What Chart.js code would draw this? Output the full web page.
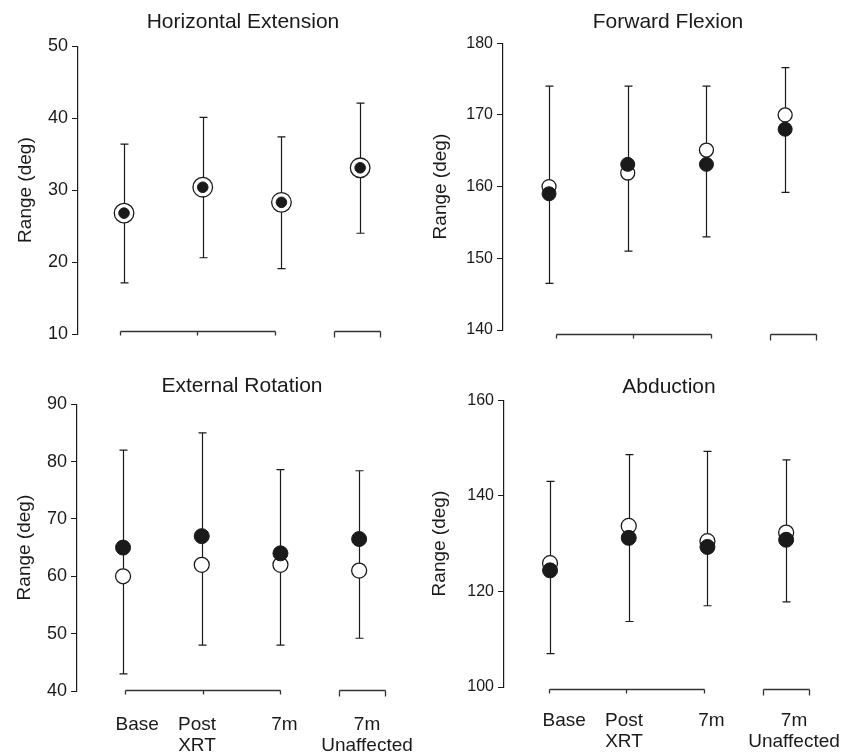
<!DOCTYPE html>
<html>
<head>
<meta charset="utf-8">
<script src="https://cdn.jsdelivr.net/npm/chart.js@4.4.1/dist/chart.umd.min.js"></script>
<style>
  body { margin: 0; background: #fff; }
  .panel { position: absolute; }
</style>
</head>
<body>
<div class="panel" id="p0"><canvas id="c0"></canvas></div>
<div class="panel" id="p1"><canvas id="c1"></canvas></div>
<div class="panel" id="p2"><canvas id="c2"></canvas></div>
<div class="panel" id="p3"><canvas id="c3"></canvas></div>
<script>
// categories along the bottom
const categories = ['Base', ['Post', 'XRT'], '7m', ['7m', 'Unaffected']];
const catX = [0, 1, 2, 3];
const labelX = [0.18, 0.94, 2.05, 3.1];

// Horizontal Extension
const heFilled = [26.8, 30.4, 28.3, 33.1];
const heOpen = [26.8, 30.4, 28.3, 33.1];
const heLow = [17.1, 20.6, 19.1, 24.0];
const heHigh = [36.4, 40.1, 37.4, 42.1];
const heTicks = [10, 20, 30, 40, 50];

// Forward Flexion
const ffFilled = [159.0, 163.1, 163.1, 168.0];
const ffOpen = [160.0, 161.9, 165.1, 170.0];
const ffLow = [146.5, 151.0, 153.0, 159.2];
const ffHigh = [174.0, 174.0, 174.0, 176.6];
const ffTicks = [140, 150, 160, 170, 180];

// External Rotation
const erFilled = [65.0, 67.0, 64.0, 66.5];
const erOpen = [60.0, 62.0, 62.0, 61.0];
const erLow = [43.0, 48.0, 48.0, 49.2];
const erHigh = [82.0, 85.0, 78.6, 78.4];
const erTicks = [40, 50, 60, 70, 80, 90];

// Abduction
const abFilled = [124.4, 131.2, 129.3, 130.8];
const abOpen = [125.9, 133.7, 130.5, 132.3];
const abLow = [107.0, 113.7, 117.0, 117.8];
const abHigh = [143.0, 148.6, 149.3, 147.5];
const abTicks = [100, 120, 140, 160];

// broken baseline pieces under the points (x units)
const baseSegments = [[0, 0.98, 1.97], [2.72, 3.3]];

const FONT = "'Liberation Sans', Arial, sans-serif";
const INK = '#1a1a1a';

const panels = [
  { title: 'Horizontal Extension', filled: heFilled, open: heOpen, low: heLow, high: heHigh, ticks: heTicks,
    left: 0, top: 0, w: 425, h: 376, axisW: 78, titlePad: { top: 10, bottom: 11 }, padBottom: 42, xAxisH: 0,
    tickSize: 18, yTitlePad: 14, rOpen: 9.8, rFilled: 5.3, segShift: -0.05, segY: -3 },
  { title: 'Forward Flexion', filled: ffFilled, open: ffOpen, low: ffLow, high: ffHigh, ticks: ffTicks,
    left: 425, top: 0, w: 424, h: 376, axisW: 78, titlePad: { top: 10, bottom: 8 }, padBottom: 46, xAxisH: 0,
    tickSize: 16, yTitlePad: 4, rOpen: 7, rFilled: 7, segShift: 0.09, segY: 4 },
  { title: 'External Rotation', filled: erFilled, open: erOpen, low: erLow, high: erHigh, ticks: erTicks,
    left: 0, top: 369, w: 425, h: 384, axisW: 77, titlePad: { top: 5, bottom: 5 }, padBottom: 0, xAxisH: 62,
    tickSize: 18, yTitlePad: 13, rOpen: 7.5, rFilled: 7.5, segShift: 0.03, segY: -1 },
  { title: 'Abduction', filled: abFilled, open: abOpen, low: abLow, high: abHigh, ticks: abTicks,
    left: 425, top: 369, w: 424, h: 384, axisW: 79, titlePad: { top: 6, bottom: 0 }, padBottom: 0, xAxisH: 66,
    tickSize: 16, yTitlePad: 3, rOpen: 7.5, rFilled: 7.5, segShift: -0.01, segY: 2 }
];

const AREA_W = 330;
const X_MIN = -0.585;
const X_MAX = 3.608;

// vertical error bars with caps, drawn under the circles
const errorBars = {
  id: 'errorBars',
  beforeDatasetsDraw(chart, args, opts) {
    const { ctx, scales: { x, y } } = chart;
    ctx.save();
    ctx.strokeStyle = INK;
    ctx.lineWidth = 1.2;
    opts.low.forEach((lo, i) => {
      const px = Math.round(x.getPixelForValue(catX[i])) + 0.5;
      const y1 = y.getPixelForValue(lo);
      const y2 = y.getPixelForValue(opts.high[i]);
      ctx.beginPath();
      ctx.moveTo(px, y1); ctx.lineTo(px, y2);
      ctx.moveTo(px - 4, y1); ctx.lineTo(px + 4, y1);
      ctx.moveTo(px - 4, y2); ctx.lineTo(px + 4, y2);
      ctx.stroke();
    });
    ctx.restore();
  }
};

// the two short baseline pieces with their tick marks
const baseLine = {
  id: 'baseLine',
  afterDraw(chart, args, opts) {
    const { ctx, chartArea, scales: { x } } = chart;
    const yy = Math.round(chartArea.bottom + opts.offset) + 0.5;
    ctx.save();
    ctx.strokeStyle = '#333';
    ctx.lineWidth = 1.3;
    baseSegments.forEach((seg, s) => {
      const pts = seg.map(v => Math.round(x.getPixelForValue(v + opts.shift)) + 0.5);
      const tl = s === 0 ? 4 : 6;
      ctx.beginPath();
      ctx.moveTo(pts[0], yy); ctx.lineTo(pts[pts.length - 1], yy);
      pts.forEach(p => { ctx.moveTo(p, yy); ctx.lineTo(p, yy + tl); });
      ctx.stroke();
    });
    ctx.restore();
  }
};

panels.forEach((p, n) => {
  const box = document.getElementById('p' + n);
  box.style.left = p.left + 'px';
  box.style.top = p.top + 'px';
  box.style.width = p.w + 'px';
  box.style.height = p.h + 'px';

  const showX = p.xAxisH > 0;

  new Chart(document.getElementById('c' + n), {
    type: 'scatter',
    data: {
      datasets: [
        {
          data: catX.map((x, i) => ({ x, y: p.filled[i] })),
          pointRadius: p.rFilled,
          pointBackgroundColor: INK,
          pointBorderColor: INK,
          pointBorderWidth: 1
        },
        {
          data: catX.map((x, i) => ({ x, y: p.open[i] })),
          pointRadius: p.rOpen,
          pointBackgroundColor: '#fff',
          pointBorderColor: INK,
          pointBorderWidth: 1.3
        }
      ]
    },
    options: {
      responsive: true,
      maintainAspectRatio: false,
      animation: false,
      devicePixelRatio: 1,
      layout: { padding: { left: 0, top: 0, right: p.w - p.axisW - AREA_W, bottom: p.padBottom } },
      plugins: {
        legend: { display: false },
        tooltip: { enabled: false },
        title: {
          display: true,
          text: p.title,
          fullSize: false,
          color: INK,
          font: { family: FONT, size: 21, weight: 'normal', lineHeight: 1.2 },
          padding: p.titlePad
        },
        errorBars: { low: p.low, high: p.high },
        baseLine: { shift: p.segShift, offset: p.segY }
      },
      scales: {
        x: {
          type: 'linear',
          display: showX,
          min: X_MIN,
          max: X_MAX,
          grid: { display: false, drawTicks: false },
          border: { display: false },
          afterBuildTicks: scale => { scale.ticks = labelX.map(v => ({ value: v })); },
          afterFit: scale => {
            scale.height = p.xAxisH;
            scale.paddingLeft = 0;
            scale.paddingRight = 0;
          },
          ticks: {
            autoSkip: false,
            maxRotation: 0,
            padding: 24,
            color: INK,
            font: { family: FONT, size: 19, lineHeight: 1.08 },
            callback: (v, i) => categories[i]
          }
        },
        y: {
          min: p.ticks[0],
          max: p.ticks[p.ticks.length - 1],
          afterBuildTicks: scale => { scale.ticks = p.ticks.map(v => ({ value: v })); },
          afterFit: scale => { scale.width = p.axisW; },
          grid: { drawOnChartArea: false, drawTicks: true, tickLength: 6, color: INK },
          border: { display: true, color: INK, width: 1.2 },
          ticks: {
            padding: 4,
            color: INK,
            font: { family: FONT, size: p.tickSize }
          },
          title: {
            display: true,
            text: 'Range (deg)',
            color: INK,
            font: { family: FONT, size: 19, lineHeight: 1.2 },
            padding: { top: p.yTitlePad, bottom: 0 }
          }
        }
      }
    },
    plugins: [errorBars, baseLine]
  });
});
</script>
</body>
</html>
